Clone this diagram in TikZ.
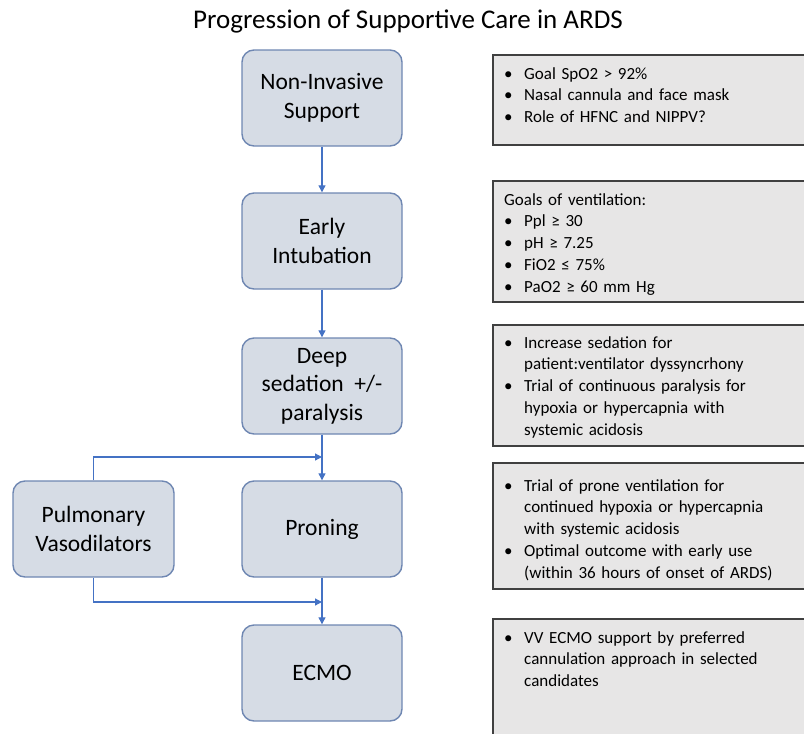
\documentclass[tikz,border=0pt]{standalone}
\usepackage{fontspec}
\setmainfont{Carlito}
\usetikzlibrary{arrows.meta}
\definecolor{boxfill}{HTML}{D6DCE5}
\definecolor{boxline}{HTML}{6F87B2}
\definecolor{flowblue}{HTML}{4472C4}
\definecolor{notefill}{HTML}{E7E6E6}
\definecolor{noteline}{HTML}{404040}
\tikzset{
	stage/.style={draw=boxline, fill=boxfill, line width=1.4pt, rounded corners=12pt, minimum width=160pt, minimum height=96pt, align=center, font=\fontsize{23.5}{28.5}\selectfont},
	flow/.style={draw=flowblue, line width=1.2pt, -{Triangle[length=7pt,width=7pt]}},
	note/.style={draw=noteline, fill=notefill, line width=1.2pt},
	notetext/.style={anchor=north west, text width=300pt, align=left, inner xsep=11pt, inner ysep=0pt, font=\fontsize{17}{21.8}\selectfont}
	}
\newcommand{\bulline}{\hangindent=20pt\hangafter=1\noindent\makebox[20pt][l]{\textbullet}}
\newcommand{\bul}{\par\bulline}

\begin{document}
\begin{tikzpicture}[x=1pt, y=-1pt]

	\useasboundingbox (0,0) rectangle (804,734);
	\clip (0,0) rectangle (804,734);

	% title
	\node[font=\fontsize{27}{32}\selectfont] (title) at (408,21) {Progression of Supportive Care in ARDS};

	% stages of care
	\node[stage] (nis) at (322,98) {Non-Invasive\\Support};
	\node[stage] (intub) at (322,241) {Early\\Intubation};
	\node[stage] (sedation) at (322,386) {Deep\\sedation~~+/-\\paralysis};
	\node[stage] (proning) at (322,529) {Proning};
	\node[stage] (ecmo) at (322,673) {ECMO};
	\node[stage, minimum width=161pt] (vaso) at (93.5,529) {Pulmonary\\Vasodilators};

	% flow between stages
	\draw[flow] (nis) -- (intub);
	\draw[flow] (intub) -- (sedation);
	\draw[flow] (sedation) -- (proning);
	\draw[flow] (proning) -- (ecmo);

	% vasodilators join the main line
	\coordinate (topjoin) at (322,457);
	\coordinate (botjoin) at (322,602);
	\draw[flow] (vaso.north) |- (topjoin);
	\draw[flow] (vaso.south) |- (botjoin);

	% notes on the right
	\draw[note] (493,55) rectangle (830,145);
	\draw[note] (493,181) rectangle (830,302);
	\draw[note] (493,325) rectangle (830,446);
	\draw[note] (493,463) rectangle (830,589);
	\draw[note] (493,619) rectangle (830,760);

	\node[notetext] (note1) at (493,67) {%
		\bulline Goal SpO2 > 92\%
		\bul Nasal cannula and face mask
		\bul Role of HFNC and NIPPV?\par};
	\node[notetext] (note2) at (493,193) {%
		Goals of ventilation:
		\bul Ppl ≥ 30
		\bul pH ≥ 7.25
		\bul FiO2 ≤ 75\%
		\bul PaO2 ≥ 60 mm Hg\par};
	\node[notetext] (note3) at (493,336) {%
		\bulline Increase sedation for\newline patient:ventilator dyssyncrhony
		\bul Trial of continuous paralysis for\newline hypoxia or hypercapnia with\newline systemic acidosis\par};
	\node[notetext] (note4) at (493,479) {%
		\bulline Trial of prone ventilation for\newline continued hypoxia or hypercapnia\newline with systemic acidosis
		\bul Optimal outcome with early use\newline (within 36 hours of onset of ARDS)\par};
	\node[notetext] (note5) at (493,631) {%
		\bulline VV ECMO support by preferred\newline cannulation approach in selected\newline candidates\par};

\end{tikzpicture}
\end{document}
